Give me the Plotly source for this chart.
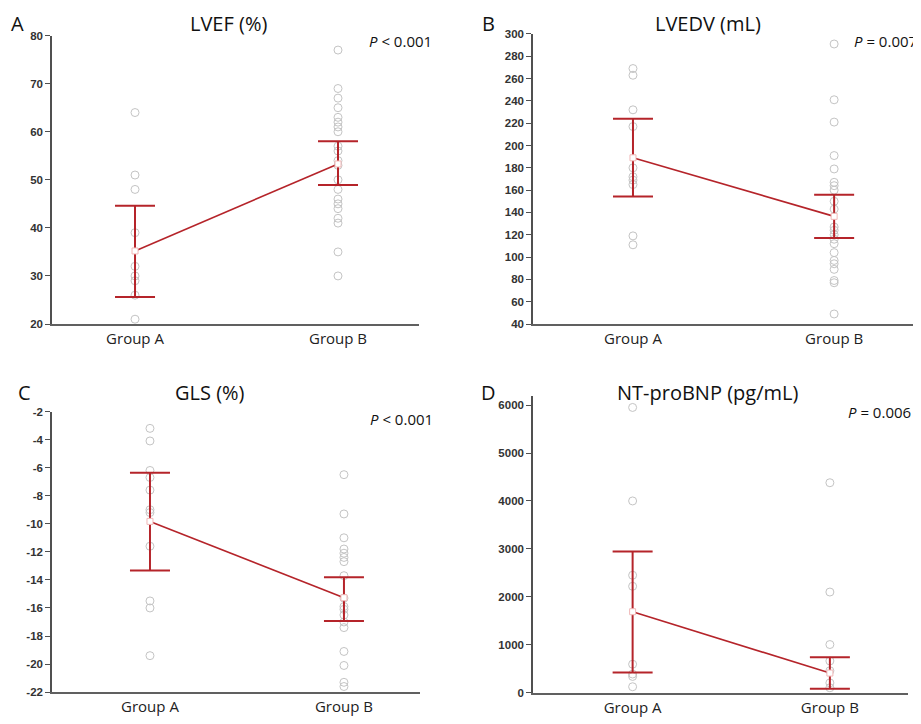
import plotly.graph_objects as go

# page body has an 8px margin; the figure is sized so it fills the rest of the 921x724 window
OFF = 8
W, H = 921 - OFF, 724 - OFF
groups = ["Group A", "Group B"]

# Panel A: LVEF (%)
lvef_a = [64, 51, 48, 39, 32, 30, 29, 26, 21]
lvef_b = [77, 69, 67, 65, 63, 62, 61, 60, 57, 56, 54, 53, 50, 48, 46, 45, 44, 42, 41, 35, 30]
lvef_mean = [35.2, 53.3]
lvef_upper = [44.6, 58.0]
lvef_lower = [25.6, 48.9]

# Panel B: LVEDV (mL)
lvedv_a = [269, 263, 232, 217, 180, 172, 169, 165, 119, 111]
lvedv_b = [291, 241, 221, 191, 179, 167, 164, 160, 150, 143, 127, 124, 120, 116, 112, 104, 97, 94, 89, 79, 77, 49]
lvedv_mean = [189, 136.5]
lvedv_upper = [224, 155.8]
lvedv_lower = [154.3, 117]

# Panel C: GLS (%)
gls_a = [-3.2, -4.1, -6.2, -6.7, -7.6, -9.0, -9.2, -11.6, -15.5, -16.0, -19.4]
gls_b = [-6.5, -9.3, -11.0, -11.8, -12.1, -12.4, -12.7, -13.7, -15.3, -15.9, -16.1, -16.5, -17.0, -17.4, -19.1, -20.1, -21.3, -21.6]
gls_mean = [-9.83, -15.27]
gls_upper = [-6.37, -13.82]
gls_lower = [-13.33, -16.93]

# Panel D: NT-proBNP (pg/mL)
bnp_a = [5950, 4000, 2450, 2220, 595, 390, 340, 125]
bnp_b = [4380, 2100, 1005, 663, 458, 205, 103]
bnp_mean = [1690, 410]
bnp_upper = [2945, 740]
bnp_lower = [424, 82]

panels = [
    dict(a=lvef_a, b=lvef_b, m=lvef_mean, u=lvef_upper, l=lvef_lower, title="LVEF (%)", letter="A",
         p="<i>P</i> < 0.001", xd=(52, 419), yd=(30, 323.3), yr=(20, 80), ticks=list(range(20, 81, 10)),
         xr=(-0.409, 1.399), title_xy=(228, 18), letter_xy=(17, 18), p_xy=(434, 35)),
    dict(a=lvedv_a, b=lvedv_b, m=lvedv_mean, u=lvedv_upper, l=lvedv_lower, title="LVEDV (mL)", letter="B",
         p="<i>P</i> = 0.007", xd=(533, 914), yd=(28.3, 323.3), yr=(40, 300), ticks=list(range(40, 301, 20)),
         xr=(-0.497, 1.397), title_xy=(708, 18), letter_xy=(488, 18), p_xy=(919, 35)),
    dict(a=gls_a, b=gls_b, m=gls_mean, u=gls_upper, l=gls_lower, title="GLS (%)", letter="C",
         p="<i>P</i> < 0.001", xd=(52, 420), yd=(412.3, 697.7), yr=(-22, -2), ticks=list(range(-22, -1, 2)),
         xr=(-0.505, 1.392), title_xy=(210, 393), letter_xy=(24, 393), p_xy=(435, 420)),
    dict(a=bnp_a, b=bnp_b, m=bnp_mean, u=bnp_upper, l=bnp_lower, title="NT-proBNP (pg/mL)", letter="D",
         p="<i>P</i> = 0.006", xd=(533, 908), yd=(396.7, 698.3), yr=(0, 6185), ticks=list(range(0, 6001, 1000)),
         xr=(-0.505, 1.396), title_xy=(707, 393), letter_xy=(488, 393), p_xy=(913, 413)),
]


def fx(px):
    return (px - OFF) / W


def fy(py):
    return 1 - (py - OFF) / H


RED = "#b5242a"
PT = "#c4c4c4"
fig = go.Figure()
layout = dict(width=W, height=H, margin=dict(l=0, r=0, t=0, b=0),
              paper_bgcolor="white", plot_bgcolor="white", showlegend=False)
annotations = []

for i, P in enumerate(panels, start=1):
    xa = "x" if i == 1 else f"x{i}"
    ya = "y" if i == 1 else f"y{i}"
    # individual points
    fig.add_trace(go.Scatter(x=[0] * len(P["a"]) + [1] * len(P["b"]), y=P["a"] + P["b"],
                             mode="markers", xaxis=xa, yaxis=ya,
                             marker=dict(symbol="circle-open", size=8, color=PT, line=dict(width=1, color=PT))))
    # mean line with error bars
    fig.add_trace(go.Scatter(x=[0, 1], y=P["m"], mode="lines+markers", xaxis=xa, yaxis=ya,
                             line=dict(color=RED, width=1.6),
                             marker=dict(symbol="square", size=6, color="white", line=dict(color="#f0b8b8", width=1)),
                             error_y=dict(type="data", symmetric=False,
                                          array=[u - m for u, m in zip(P["u"], P["m"])],
                                          arrayminus=[m - l for m, l in zip(P["m"], P["l"])],
                                          color=RED, thickness=2, width=20)))
    xk = "xaxis" if i == 1 else f"xaxis{i}"
    yk = "yaxis" if i == 1 else f"yaxis{i}"
    layout[xk] = dict(domain=[fx(P["xd"][0]), fx(P["xd"][1])], range=list(P["xr"]), anchor=ya,
                      tickvals=[0, 1], ticktext=groups, showgrid=False, zeroline=False,
                      showline=True, linecolor="#606060", linewidth=2, ticks="",
                      tickfont=dict(family="Open Sans", size=15, color="#222"), fixedrange=True)
    layout[yk] = dict(domain=[fy(P["yd"][1]), fy(P["yd"][0])], range=list(P["yr"]), anchor=xa,
                      tickvals=P["ticks"], ticktext=[f"<b>{t}</b>" for t in P["ticks"]],
                      showgrid=False, zeroline=False, showline=True, linecolor="#505050", linewidth=1.5,
                      ticks="outside", ticklen=5, tickcolor="#505050", tickwidth=1,
                      tickfont=dict(family="Liberation Sans", size=11.5, color="#333"), fixedrange=True)
    tx, ty = P["title_xy"]
    annotations.append(dict(x=fx(tx), y=fy(ty), xref="paper", yref="paper", text=P["title"],
                            showarrow=False, font=dict(family="Open Sans", size=20, color="#111"),
                            xanchor="center", yanchor="middle"))
    lx, ly = P["letter_xy"]
    annotations.append(dict(x=fx(lx), y=fy(ly), xref="paper", yref="paper", text=P["letter"],
                            showarrow=False, font=dict(family="Open Sans", size=20, color="#111"),
                            xanchor="center", yanchor="middle"))
    px, py = P["p_xy"]
    annotations.append(dict(x=fx(px), y=fy(py), xref="paper", yref="paper", text=P["p"],
                            showarrow=False, font=dict(family="Open Sans", size=15, color="#111"),
                            xanchor="right", yanchor="middle"))

layout["annotations"] = annotations
fig.update_layout(**layout)
fig.write_html("out.html")
